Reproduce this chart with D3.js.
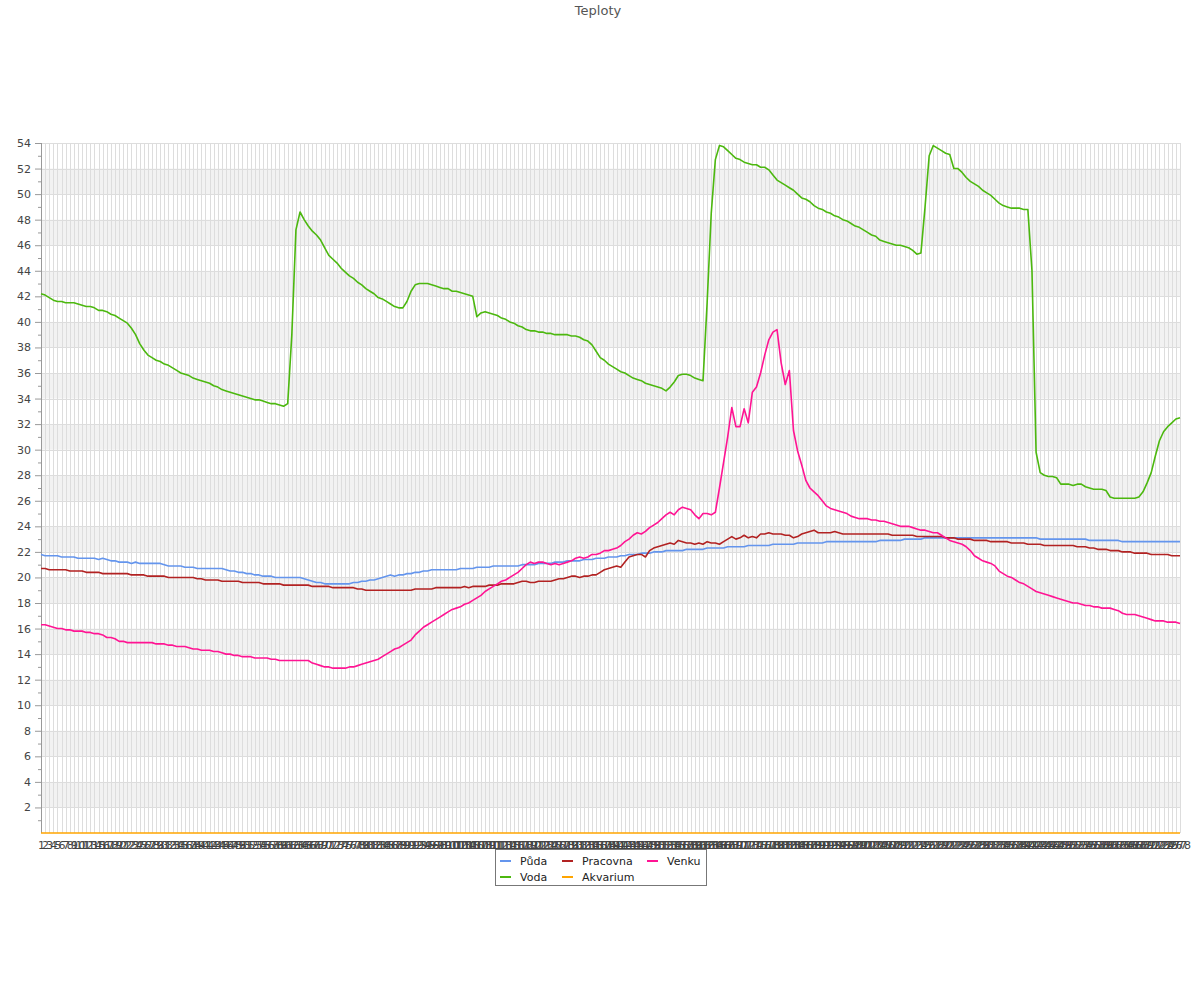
<!DOCTYPE html>
<html><head><meta charset="utf-8">
<script src="https://cdn.jsdelivr.net/npm/d3@7/dist/d3.min.js"></script>
<style>body{margin:0;background:#fff;}svg text{font-family:"DejaVu Sans",sans-serif;}</style>
</head><body><svg id="c" width="1200" height="1000"></svg>
<script>
const categories = [1,2,3,4,5,6,7,8,9,10,11,12,13,14,15,16,17,18,19,20,21,22,23,24,25,26,27,28,29,30,31,32,33,34,35,36,37,38,39,40,41,42,43,44,45,46,47,48,49,50,51,52,53,54,55,56,57,58,59,60,61,62,63,64,65,66,67,68,69,70,71,72,73,74,75,76,77,78,79,80,81,82,83,84,85,86,87,88,89,90,91,92,93,94,95,96,97,98,99,100,101,102,103,104,105,106,107,108,109,110,111,112,113,114,115,116,117,118,119,120,121,122,123,124,125,126,127,128,129,130,131,132,133,134,135,136,137,138,139,140,141,142,143,144,145,146,147,148,149,150,151,152,153,154,155,156,157,158,159,160,161,162,163,164,165,166,167,168,169,170,171,172,173,174,175,176,177,178,179,180,181,182,183,184,185,186,187,188,189,190,191,192,193,194,195,196,197,198,199,200,201,202,203,204,205,206,207,208,209,210,211,212,213,214,215,216,217,218,219,220,221,222,223,224,225,226,227,228,229,230,231,232,233,234,235,236,237,238,239,240,241,242,243,244,245,246,247,248,249,250,251,252,253,254,255,256,257,258,259,260,261,262,263,264,265,266,267,268,269,270,271,272,273,274,275,276,277,278];

const puda = [21.8,21.7,21.7,21.7,21.7,21.6,21.6,21.6,21.6,21.5,
21.5,21.5,21.5,21.5,21.4,21.5,21.4,21.3,21.3,21.2,
21.2,21.2,21.1,21.2,21.1,21.1,21.1,21.1,21.1,21.1,
21.0,20.9,20.9,20.9,20.9,20.8,20.8,20.8,20.7,20.7,
20.7,20.7,20.7,20.7,20.7,20.6,20.5,20.5,20.4,20.4,
20.3,20.3,20.2,20.2,20.1,20.1,20.1,20.0,20.0,20.0,
20.0,20.0,20.0,20.0,19.9,19.8,19.7,19.6,19.6,19.5,
19.5,19.5,19.5,19.5,19.5,19.5,19.6,19.6,19.7,19.7,
19.8,19.8,19.9,20.0,20.1,20.2,20.1,20.2,20.2,20.3,
20.3,20.4,20.4,20.5,20.5,20.6,20.6,20.6,20.6,20.6,
20.6,20.6,20.7,20.7,20.7,20.7,20.8,20.8,20.8,20.8,
20.9,20.9,20.9,20.9,20.9,20.9,20.9,21.0,21.0,21.0,
21.0,21.1,21.1,21.1,21.1,21.2,21.2,21.2,21.3,21.3,
21.3,21.3,21.4,21.4,21.4,21.5,21.5,21.5,21.6,21.6,
21.6,21.7,21.7,21.8,21.8,21.8,21.9,21.9,21.9,22.0,
22.0,22.0,22.1,22.1,22.1,22.1,22.1,22.2,22.2,22.2,
22.2,22.2,22.3,22.3,22.3,22.3,22.3,22.4,22.4,22.4,
22.4,22.4,22.5,22.5,22.5,22.5,22.5,22.5,22.6,22.6,
22.6,22.6,22.6,22.6,22.7,22.7,22.7,22.7,22.7,22.7,
22.7,22.8,22.8,22.8,22.8,22.8,22.8,22.8,22.8,22.8,
22.8,22.8,22.8,22.8,22.9,22.9,22.9,22.9,22.9,22.9,
23.0,23.0,23.0,23.0,23.0,23.1,23.1,23.1,23.1,23.1,
23.1,23.1,23.1,23.1,23.1,23.1,23.1,23.1,23.1,23.1,
23.1,23.1,23.1,23.1,23.1,23.1,23.1,23.1,23.1,23.1,
23.1,23.1,23.1,23.0,23.0,23.0,23.0,23.0,23.0,23.0,
23.0,23.0,23.0,23.0,23.0,22.9,22.9,22.9,22.9,22.9,
22.9,22.9,22.9,22.8,22.8,22.8,22.8,22.8,22.8,22.8,
22.8,22.8,22.8,22.8,22.8,22.8,22.8,22.8];

const voda = [42.2,42.1,41.9,41.7,41.6,41.6,41.5,41.5,41.5,41.4,
41.3,41.2,41.2,41.1,40.9,40.9,40.8,40.6,40.5,40.3,
40.1,39.9,39.5,39.0,38.3,37.8,37.4,37.2,37.0,36.9,
36.7,36.6,36.4,36.2,36.0,35.9,35.8,35.6,35.5,35.4,
35.3,35.2,35.0,34.9,34.7,34.6,34.5,34.4,34.3,34.2,
34.1,34.0,33.9,33.9,33.8,33.7,33.6,33.6,33.5,33.4,
33.6,39.0,47.2,48.6,48.0,47.5,47.1,46.8,46.4,45.8,
45.2,44.9,44.6,44.2,43.9,43.6,43.4,43.1,42.9,42.6,
42.4,42.2,41.9,41.8,41.6,41.4,41.2,41.1,41.1,41.6,
42.4,42.9,43.0,43.0,43.0,42.9,42.8,42.7,42.6,42.6,
42.4,42.4,42.3,42.2,42.1,42.0,40.4,40.7,40.8,40.7,
40.6,40.5,40.3,40.2,40.0,39.9,39.7,39.6,39.4,39.3,
39.3,39.2,39.2,39.1,39.1,39.0,39.0,39.0,39.0,38.9,
38.9,38.8,38.6,38.5,38.2,37.7,37.2,37.0,36.7,36.5,
36.3,36.1,36.0,35.8,35.6,35.5,35.4,35.2,35.1,35.0,
34.9,34.8,34.6,34.9,35.3,35.8,35.9,35.9,35.8,35.6,
35.5,35.4,41.5,48.5,52.7,53.8,53.7,53.4,53.1,52.8,
52.7,52.5,52.4,52.3,52.3,52.1,52.1,51.9,51.5,51.1,
50.9,50.7,50.5,50.3,50.0,49.7,49.6,49.4,49.1,48.9,
48.8,48.6,48.5,48.3,48.2,48.0,47.9,47.7,47.5,47.4,
47.2,47.0,46.8,46.7,46.4,46.3,46.2,46.1,46.0,46.0,
45.9,45.8,45.6,45.3,45.4,49.0,53.0,53.8,53.6,53.4,
53.2,53.1,52.0,52.0,51.7,51.3,51.0,50.8,50.6,50.3,
50.1,49.9,49.6,49.3,49.1,49.0,48.9,48.9,48.9,48.8,
48.8,44.0,29.8,28.2,28.0,27.9,27.9,27.8,27.3,27.3,
27.3,27.2,27.3,27.3,27.1,27.0,26.9,26.9,26.9,26.8,
26.3,26.2,26.2,26.2,26.2,26.2,26.2,26.3,26.7,27.4,
28.2,29.5,30.7,31.4,31.8,32.1,32.4,32.5];

const pracovna = [20.7,20.7,20.6,20.6,20.6,20.6,20.6,20.5,20.5,20.5,
20.5,20.4,20.4,20.4,20.4,20.3,20.3,20.3,20.3,20.3,
20.3,20.3,20.2,20.2,20.2,20.2,20.1,20.1,20.1,20.1,
20.1,20.0,20.0,20.0,20.0,20.0,20.0,20.0,19.9,19.9,
19.8,19.8,19.8,19.8,19.7,19.7,19.7,19.7,19.7,19.6,
19.6,19.6,19.6,19.6,19.5,19.5,19.5,19.5,19.5,19.4,
19.4,19.4,19.4,19.4,19.4,19.4,19.3,19.3,19.3,19.3,
19.3,19.2,19.2,19.2,19.2,19.2,19.2,19.1,19.1,19.0,
19.0,19.0,19.0,19.0,19.0,19.0,19.0,19.0,19.0,19.0,
19.0,19.1,19.1,19.1,19.1,19.1,19.2,19.2,19.2,19.2,
19.2,19.2,19.2,19.3,19.2,19.3,19.3,19.3,19.3,19.4,
19.4,19.4,19.5,19.5,19.5,19.5,19.6,19.7,19.7,19.6,
19.6,19.7,19.7,19.7,19.7,19.8,19.9,19.9,20.0,20.1,
20.1,20.0,20.1,20.1,20.2,20.2,20.4,20.6,20.7,20.8,
20.9,20.8,21.2,21.6,21.7,21.8,21.8,21.6,22.1,22.3,
22.4,22.5,22.6,22.7,22.6,22.9,22.8,22.7,22.7,22.6,
22.7,22.6,22.8,22.7,22.7,22.6,22.8,23.0,23.2,23.0,
23.1,23.3,23.1,23.2,23.1,23.4,23.4,23.5,23.4,23.4,
23.4,23.3,23.3,23.1,23.2,23.4,23.5,23.6,23.7,23.5,
23.5,23.5,23.5,23.6,23.5,23.4,23.4,23.4,23.4,23.4,
23.4,23.4,23.4,23.4,23.4,23.4,23.4,23.3,23.3,23.3,
23.3,23.3,23.3,23.2,23.2,23.2,23.2,23.2,23.2,23.2,
23.1,23.1,23.1,23.0,23.0,23.0,23.0,22.9,22.9,22.9,
22.9,22.8,22.8,22.8,22.8,22.8,22.7,22.7,22.7,22.7,
22.6,22.6,22.6,22.6,22.5,22.5,22.5,22.5,22.5,22.5,
22.5,22.5,22.4,22.4,22.4,22.3,22.3,22.2,22.2,22.2,
22.1,22.1,22.1,22.0,22.0,22.0,21.9,21.9,21.9,21.9,
21.8,21.8,21.8,21.8,21.8,21.7,21.7,21.7];

const akvarium = [0,0,0,0,0,0,0,0,0,0,0,0,0,0,0,0,0,0,0,0,0,0,0,0,0,0,0,0,0,0,0,0,0,0,0,0,0,0,0,0,
0,0,0,0,0,0,0,0,0,0,0,0,0,0,0,0,0,0,0,0,0,0,0,0,0,0,0,0,0,0,0,0,0,0,0,0,0,0,0,0,
0,0,0,0,0,0,0,0,0,0,0,0,0,0,0,0,0,0,0,0,0,0,0,0,0,0,0,0,0,0,0,0,0,0,0,0,0,0,0,0,
0,0,0,0,0,0,0,0,0,0,0,0,0,0,0,0,0,0,0,0,0,0,0,0,0,0,0,0,0,0,0,0,0,0,0,0,0,0,0,0,
0,0,0,0,0,0,0,0,0,0,0,0,0,0,0,0,0,0,0,0,0,0,0,0,0,0,0,0,0,0,0,0,0,0,0,0,0,0,0,0,
0,0,0,0,0,0,0,0,0,0,0,0,0,0,0,0,0,0,0,0,0,0,0,0,0,0,0,0,0,0,0,0,0,0,0,0,0,0,0,0,
0,0,0,0,0,0,0,0,0,0,0,0,0,0,0,0,0,0,0,0,0,0,0,0,0,0,0,0,0,0,0,0,0,0,0,0,0,0];

const venku = [16.3,16.3,16.2,16.1,16.0,16.0,15.9,15.9,15.8,15.8,
15.8,15.7,15.7,15.6,15.6,15.5,15.3,15.3,15.2,15.0,
15.0,14.9,14.9,14.9,14.9,14.9,14.9,14.9,14.8,14.8,
14.8,14.7,14.7,14.6,14.6,14.6,14.5,14.4,14.4,14.3,
14.3,14.3,14.2,14.2,14.1,14.0,14.0,13.9,13.9,13.8,
13.8,13.8,13.7,13.7,13.7,13.7,13.6,13.6,13.5,13.5,
13.5,13.5,13.5,13.5,13.5,13.5,13.3,13.2,13.1,13.0,
13.0,12.9,12.9,12.9,12.9,13.0,13.0,13.1,13.2,13.3,
13.4,13.5,13.6,13.8,14.0,14.2,14.4,14.5,14.7,14.9,
15.1,15.5,15.8,16.1,16.3,16.5,16.7,16.9,17.1,17.3,
17.5,17.6,17.7,17.9,18.0,18.2,18.4,18.6,18.9,19.1,
19.3,19.5,19.7,19.8,20.0,20.2,20.4,20.7,21.0,21.2,
21.1,21.2,21.2,21.1,21.0,21.1,21.0,21.1,21.2,21.3,
21.5,21.6,21.5,21.6,21.8,21.8,21.9,22.1,22.1,22.2,
22.3,22.5,22.8,23.0,23.3,23.5,23.4,23.6,23.9,24.1,
24.3,24.6,24.9,25.1,24.9,25.3,25.5,25.4,25.3,24.9,
24.6,25.0,25.0,24.9,25.1,27.0,29.0,31.0,33.3,31.8,
31.8,33.2,32.1,34.5,34.9,36.0,37.4,38.6,39.2,39.4,
36.8,35.1,36.2,31.5,29.9,28.8,27.6,27.0,26.7,26.4,
26.0,25.6,25.4,25.3,25.2,25.1,25.0,24.8,24.7,24.6,
24.6,24.6,24.5,24.5,24.4,24.4,24.3,24.2,24.1,24.0,
24.0,24.0,23.9,23.8,23.7,23.7,23.6,23.5,23.5,23.3,
23.1,22.9,22.8,22.7,22.6,22.4,22.1,21.7,21.5,21.3,
21.2,21.1,20.9,20.5,20.3,20.1,20.0,19.8,19.6,19.5,
19.3,19.1,18.9,18.8,18.7,18.6,18.5,18.4,18.3,18.2,
18.1,18.0,18.0,17.9,17.8,17.8,17.7,17.7,17.6,17.6,
17.6,17.5,17.4,17.2,17.1,17.1,17.1,17.0,16.9,16.8,
16.7,16.6,16.6,16.6,16.5,16.5,16.5,16.4];

const seriesNames = ["Půda","Voda","Pracovna","Akvarium","Venku"];
const seriesColors = ["#6495ed","#4cb80f","#b22222","#ffa500","#ff1493"];
const seriesValues = [puda, voda, pracovna, akvarium, venku];
const yTickLabels = [2,4,6,8,10,12,14,16,18,20,22,24,26,28,30,32,34,36,38,40,42,44,46,48,50,52,54];
const yMinorTicks = [1,3,5,7,9,11,13,15,17,19,21,23,25,27,29,31,33,35,37,39,41,43,45,47,49,51,53];
const title = "Teploty";

const svg = d3.select("#c");
const L = 41, R = 1180, T = 143, B = 833;
const x = d3.scaleLinear().domain([1, categories.length]).range([L, R]);
const y = d3.scaleLinear().domain([0, 54]).range([B, T]);

// alternating bands
const bands = [];
for (let v = 2; v < 54; v += 4) bands.push(v);
svg.append("g").selectAll("rect").data(bands).join("rect")
  .attr("x", L).attr("width", R - L)
  .attr("y", d => y(d + 2)).attr("height", d => y(d) - y(d + 2))
  .attr("fill", "#f2f2f2");

// vertical grid
svg.append("g").selectAll("line").data(categories).join("line")
  .attr("x1", d => Math.round(x(d)) + 0.5).attr("x2", d => Math.round(x(d)) + 0.5)
  .attr("y1", T).attr("y2", B)
  .attr("stroke", "#dddddd").attr("stroke-width", 1);

// horizontal grid
svg.append("g").selectAll("line").data(yTickLabels).join("line")
  .attr("x1", L).attr("x2", R)
  .attr("y1", d => Math.round(y(d)) + 0.5).attr("y2", d => Math.round(y(d)) + 0.5)
  .attr("stroke", "#dddddd").attr("stroke-width", 1);

// y axis
const yAxis = d3.axisLeft(y).tickValues(yTickLabels).tickSize(6).tickPadding(4).tickFormat(d3.format("d"));
const gy = svg.append("g").attr("transform", `translate(${L},0)`).call(yAxis);
gy.select(".domain").attr("stroke", "#999").attr("d", `M0.5,${T}V${B}`);
gy.selectAll(".tick line").attr("stroke", "#999");
gy.selectAll(".tick text").attr("fill", "#444").attr("font-size", 11).attr("font-family", "DejaVu Sans");
const yMinor = d3.axisLeft(y).tickValues(yMinorTicks).tickSize(3).tickFormat("");
const gym = svg.append("g").attr("transform", `translate(${L},0)`).call(yMinor);
gym.select(".domain").remove();
gym.selectAll(".tick line").attr("stroke", "#999");

// x axis labels
const xAxis = d3.axisBottom(x).tickValues(categories).tickSize(0).tickPadding(8).tickFormat(d3.format("d"));
const gx = svg.append("g").attr("transform", `translate(0,${B})`).call(xAxis);
gx.select(".domain").remove();
gx.selectAll(".tick text").attr("fill", "#444").attr("font-size", 11).attr("font-family", "DejaVu Sans");

// lines
const line = d3.line().x((d, i) => x(categories[i])).y(d => y(d));
svg.append("g").selectAll("path").data(seriesValues).join("path")
  .attr("d", d => line(d))
  .attr("fill", "none")
  .attr("stroke", (d, i) => seriesColors[i])
  .attr("stroke-width", 1.6)
  .attr("stroke-linejoin", "round");

// title
svg.append("text").attr("x", 598).attr("y", 15).attr("text-anchor", "middle")
  .attr("font-size", 13).attr("fill", "#555").text(title);

// legend
const lg = svg.append("g");
lg.append("rect").attr("x", 495.5).attr("y", 849.5).attr("width", 211).attr("height", 36)
  .attr("fill", "#fff").attr("stroke", "#777");
const colX = [500, 562, 647];
const rowY = [861, 877];
seriesNames.forEach((n, i) => {
  const col = Math.floor(i / 2), row = i % 2;
  const g = lg.append("g");
  g.append("line").attr("x1", colX[col]).attr("x2", colX[col] + 11)
    .attr("y1", rowY[row]).attr("y2", rowY[row])
    .attr("stroke", seriesColors[i]).attr("stroke-width", 2);
  g.append("text").attr("x", colX[col] + 20).attr("y", rowY[row] + 4)
    .attr("font-size", 11).attr("fill", "#222").text(n);
});
</script></body></html>
